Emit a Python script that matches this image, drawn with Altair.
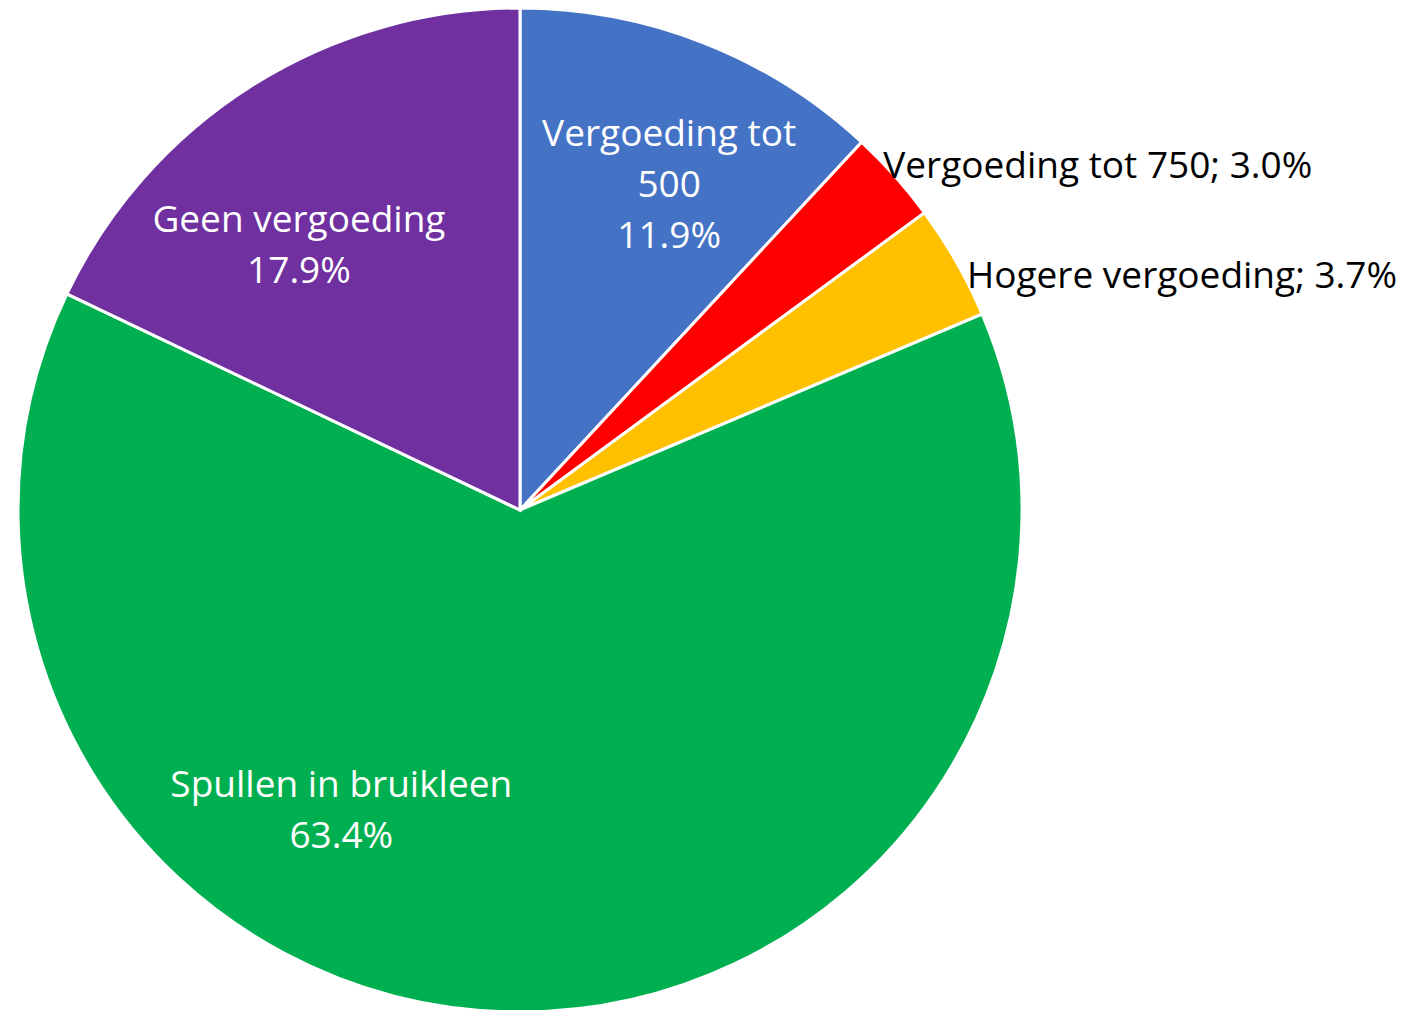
import altair as alt
import pandas as pd

categories = ["Vergoeding tot 500", "Vergoeding tot 750", "Hogere vergoeding",
              "Spullen in bruikleen", "Geen vergoeding"]
values = [11.9, 3.0, 3.7, 63.4, 17.9]
labels = ["Vergoeding tot\n500\n11.9%", "Vergoeding tot 750; 3.0%",
          "Hogere vergoeding; 3.7%", "Spullen in bruikleen\n63.4%",
          "Geen vergoeding\n17.9%"]
colors = ["#4472C4", "#FF0000", "#FFC000", "#00B050", "#7030A0"]

df = pd.DataFrame({"category": categories, "value": values,
                   "label": labels, "order": list(range(len(categories)))})
total = sum(values)
theta_scale = alt.Scale(domain=[0, total])

CX, CY, R = 512, 502, 502

base = alt.Chart(df)

arcs = base.mark_arc(stroke="white", strokeWidth=3, outerRadius=R).encode(
    theta=alt.Theta("value:Q", stack=True, scale=theta_scale),
    order=alt.Order("order:Q"),
    color=alt.Color("category:N", scale=alt.Scale(domain=categories, range=colors),
                    legend=None),
    x=alt.value(CX),
    y=alt.value(CY),
)

# label styling: (radius, dx, dy, align, colour)
label_style = {
    "Vergoeding tot 500": (356, 19, -44, "center", "white"),
    "Vergoeding tot 750": (520, -25, 3, "left", "black"),
    "Hogere vergoeding": (520, -5, 24, "left", "black"),
    "Spullen in bruikleen": (350, -171, -74, "center", "white"),
    "Geen vergoeding": (343, -38, 1, "center", "white"),
}

layers = [arcs]
for cat in categories:
    r, dx, dy, align, col = label_style[cat]
    t = base.transform_window(
        cum="sum(value)", sort=[alt.SortField("order")], frame=[None, 0]
    ).transform_calculate(
        mid="datum.cum - datum.value / 2"
    ).transform_filter(
        alt.datum.category == cat
    ).mark_text(
        font="Open Sans", fontSize=37, lineHeight=51, lineBreak="\n",
        align=align, baseline="middle", color=col, dx=dx, dy=dy
    ).encode(
        theta=alt.Theta("mid:Q", stack=False, scale=theta_scale),
        radius=alt.value(r),
        x=alt.value(CX),
        y=alt.value(CY),
        text="label:N",
    )
    layers.append(t)

chart = alt.layer(*layers).properties(
    width=1396, height=1004, padding=0,
    autosize=alt.AutoSizeParams(type="none"),
).configure_view(strokeWidth=0)

chart.save("out.html", embed_options={"renderer": "svg", "actions": False})
